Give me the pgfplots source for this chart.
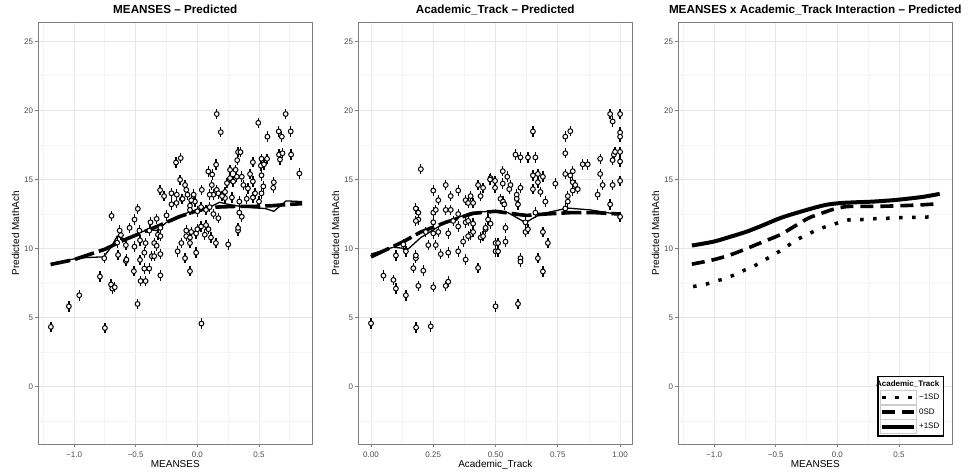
\documentclass[border=0pt]{standalone}
\usepackage{pgfplots}
\pgfplotsset{compat=1.18}
\usepackage{fontspec}
\setmainfont{Liberation Sans}
\definecolor{tickgray}{RGB}{77,77,77}
\definecolor{bordergray}{RGB}{127,127,127}
\definecolor{gridmajor}{RGB}{232,232,232}
\definecolor{gridminor}{RGB}{244,244,244}

\pgfplotstableread{
x y
-1.188 4.33
-1.042 5.82
-0.958 6.62
-0.75 4.25
-0.79 7.97
-0.70 7.4
-0.69 7.1
-0.67 7.2
-0.755 9.3
-0.643 9.54
-0.58 9.1
-0.575 9.2
-0.58 10.25
-0.65 10.43
-0.62 10.98
-0.51 10.14
-0.515 8.36
-0.485 5.99
-0.465 9.18
-0.46 7.65
-0.42 7.65
-0.43 8.55
-0.39 8.55
-0.43 9.7
-0.42 10.4
-0.37 9.45
-0.35 9.45
-0.35 10.4
-0.33 10.2
-0.30 9.6
-0.30 8.06
-0.32 11.0
-0.30 10.9
-0.16 9.8
-0.13 10.4
-0.10 9.3
-0.06 10.4
-0.06 8.36
-0.09 10.9
-0.06 10.8
-0.01 9.7
-0.01 11.1
0.033 4.57
0.06 11.0
0.11 10.8
0.15 10.4
0.25 10.3
0.33 11.3
-0.465 10.6
0.157 19.74
0.19 18.43
0.494 19.1
0.716 19.74
0.757 18.48
0.66 18.48
0.685 18.1
0.568 18.1
-0.173 16.23
-0.135 16.55
0.152 16.07
0.33 16.98
0.35 16.98
0.52 16.5
0.565 16.5
0.323 16.4
0.662 16.8
0.67 16.45
0.69 16.9
0.76 16.8
0.089 15.58
0.12 15.36
0.265 15.7
0.31 15.7
0.515 16.0
0.827 15.43
-0.14 14.98
-0.10 14.6
-0.09 14.25
-0.167 13.9
-0.126 13.58
-0.03 13.9
-0.02 13.4
0.036 14.25
0.117 14.6
0.157 14.25
0.13 13.9
0.224 14.1
0.224 13.66
0.24 14.74
0.265 15.1
0.29 14.85
0.32 15.2
0.36 15.2
0.373 14.6
0.41 14.36
0.427 15.39
0.45 14.85
0.468 14.0
0.52 14.0
0.535 14.5
0.52 15.3
0.62 14.8
0.615 14.4
0.45 16.25
0.54 16.1
-0.302 14.23
-0.27 13.8
-0.21 14.0
-0.08 13.9
-0.05 13.5
0.10 13.9
0.17 14.0
0.20 13.8
0.28 13.7
0.34 13.4
0.40 13.6
0.45 13.7
0.50 13.4
-0.696 12.37
-0.483 12.88
-0.51 12.1
-0.33 12.15
-0.21 13.2
-0.17 13.3
-0.12 13.6
-0.06 13.1
-0.06 12.8
0.0 12.7
0.03 13.0
0.07 12.8
0.10 13.0
0.13 12.5
0.17 12.2
0.34 12.6
0.36 12.3
0.33 11.5
-0.63 11.3
-0.55 11.5
-0.47 11.3
-0.39 11.3
-0.30 11.5
-0.09 11.3
-0.05 11.2
0.0 11.4
0.03 11.6
0.09 11.4
0.07 11.7
-0.25 12.4
-0.38 11.9
}\pointsA

\pgfplotstableread{
x y
0.0 4.59
0.181 4.28
0.24 4.37
0.2 15.75
0.05 8.04
0.09 7.73
0.1 7.1
0.1 9.5
0.14 6.62
0.13 10.3
0.14 9.8
0.17 8.58
0.18 9.3
0.18 9.5
0.21 8.4
0.19 7.3
0.25 7.2
0.3 7.3
0.31 7.6
0.18 12.9
0.19 12.6
0.19 12.1
0.18 12.0
0.25 14.2
0.27 13.5
0.3 14.6
0.32 13.8
0.35 14.2
0.25 12.6
0.26 12.8
0.25 11.9
0.3 12.8
0.32 12.8
0.35 12.5
0.22 11.2
0.25 11.1
0.27 11.2
0.23 10.25
0.26 10.25
0.28 9.6
0.31 11.1
0.31 9.7
0.33 12.0
0.35 11.6
0.35 9.8
0.37 10.5
0.38 9.2
0.38 13.5
0.39 13.3
0.40 13.8
0.41 13.3
0.43 14.6
0.45 14.4
0.44 13.8
0.38 11.9
0.39 12.0
0.41 11.8
0.40 11.0
0.39 10.9
0.41 11.2
0.43 8.6
0.44 10.8
0.45 10.9
0.46 11.4
0.47 12.1
0.46 11.5
0.48 15.1
0.5 9.8
0.5 10.4
0.5 5.82
0.59 6.0
0.65 18.48
0.96 19.74
1.0 19.74
0.97 19.2
1.0 18.4
1.0 18.1
0.78 18.1
0.80 18.5
0.78 16.9
0.58 16.8
0.6 16.6
0.63 16.6
0.66 16.6
0.85 16.1
0.87 16.1
0.92 16.5
0.97 16.4
0.975 16.8
0.98 17.0
1.0 17.0
1.0 16.3
1.0 14.9
0.97 14.6
0.96 13.2
1.0 12.3
0.92 15.4
0.93 14.6
0.91 13.9
0.78 15.4
0.8 15.3
0.81 15.6
0.81 14.8
0.82 14.6
0.83 14.3
0.81 14.2
0.79 13.8
0.79 13.4
0.78 12.9
0.74 14.7
0.65 15.3
0.67 15.4
0.69 15.2
0.67 14.8
0.65 14.3
0.68 14.1
0.70 13.4
0.66 12.6
0.478 15.0
0.498 14.9
0.498 14.4
0.529 15.6
0.529 14.7
0.547 15.2
0.56 14.6
0.555 14.3
0.60 14.4
0.585 13.9
0.585 13.6
0.59 13.2
0.52 13.6
0.53 13.4
0.535 13.2
0.6 9.3
0.6 9.05
0.67 9.3
0.69 8.34
0.69 11.2
0.71 10.4
0.62 11.2
0.63 11.4
0.62 11.9
0.51 10.4
0.51 9.8
0.54 10.5
0.54 11.5
0.48 11.8
}\pointsB

\pgfplotsset{
  ggpanel/.style={
    scale only axis, width=274pt, height=422pt,
    anchor=south west,
    ymin=-4.17, ymax=26.38,
    ytick={0,5,10,15,20,25},
    yticklabels={0,5,10,15,20,25},
    minor ytick={-2.5,2.5,7.5,12.5,17.5,22.5},
    grid=both,
    major grid style={draw=gridmajor, line width=1pt},
    minor grid style={draw=gridminor, line width=0.8pt},
    axis line style={draw=bordergray, line width=1pt},
    tick pos=left, tick align=outside,
    major tick length=3pt, minor tick length=0pt,
    tick style={draw=bordergray, line width=0.8pt},
    ticklabel style={font=\fontsize{8}{9}\selectfont, text=tickgray},
    yticklabel style={anchor=east, inner sep=0pt, xshift=-2pt},
    xticklabel style={anchor=north, inner sep=0pt, yshift=-4.5pt},
    title style={font=\bfseries\fontsize{11.7}{14}\selectfont, at={(axis description cs:0.5,1.0078)}, anchor=base},
    label style={font=\fontsize{10}{12}\selectfont},
    xlabel style={at={(axis description cs:0.5,-0.0538)}, anchor=base},
    ylabel style={at={(axis description cs:-0.0704,0.5)}, anchor=base},
    ylabel={Predicted MathAch},
    barsty/.style={draw=none, mark=none,
      error bars/.cd, y dir=both, y fixed=0.38,
      error bar style={line width=1.3pt, black}, error mark=none},
    pointsty/.style={only marks, mark=*, mark size=2.4pt,
      mark options={fill=white, draw=black, line width=1pt}},
  },
  axisA/.style={xmin=-1.29, xmax=0.932,
    xtick={-1,-0.5,0,0.5}, xticklabels={−1.0,−0.5,0.0,0.5},
    minor xtick={-1.25,-0.75,-0.25,0.25,0.75}},
}

\begin{document}
\begin{tikzpicture}[x=1pt,y=1pt]
\path[use as bounding box] (0,0) rectangle (968,471);

% Panel 1
\begin{axis}[ggpanel, axisA, at={(38.3pt,26.7pt)},
  title={MEANSES – Predicted}, xlabel={MEANSES}]
\addplot[barsty] table[x=x,y=y] {\pointsA};
\addplot[pointsty] table[x=x,y=y] {\pointsA};
\addplot[black, line width=3.6pt, dash pattern=on 20pt off 5pt] coordinates {
(-1.19,8.85) (-1.0,9.2) (-0.9,9.5) (-0.75,9.95) (-0.6,10.6) (-0.45,11.15) (-0.3,11.7) (-0.15,12.3) (0.0,12.75) (0.15,13.0) (0.3,13.05) (0.45,13.05) (0.6,13.1) (0.75,13.2) (0.85,13.25)};
\addplot[black, line width=1.3pt] coordinates {
(-1.19,8.9) (-1.0,9.25) (-0.9,9.35) (-0.76,9.4) (-0.7,10.1) (-0.65,10.9) (-0.58,10.65) (-0.5,11.0) (-0.4,11.4) (-0.33,11.3) (-0.25,11.9) (-0.15,12.2) (-0.08,12.6) (0.0,12.8) (0.1,13.0) (0.18,13.35) (0.25,13.2) (0.35,13.05) (0.45,12.95) (0.55,12.9) (0.62,12.7) (0.72,13.45) (0.85,13.4)};
\end{axis}

% Panel 2
\begin{axis}[ggpanel, at={(358.3pt,26.7pt)},
  xmin=-0.051, xmax=1.049,
  xtick={0,0.25,0.5,0.75,1}, xticklabels={0.00,0.25,0.50,0.75,1.00},
  minor xtick={0.125,0.375,0.625,0.875},
  title={Academic\_Track – Predicted}, xlabel={Academic\_Track}]
\addplot[barsty] table[x=x,y=y] {\pointsB};
\addplot[pointsty] table[x=x,y=y] {\pointsB};
\addplot[black, line width=3.6pt, dash pattern=on 20pt off 5pt] coordinates {
(0,9.4) (0.13,10.5) (0.2,11.2) (0.3,11.9) (0.41,12.55) (0.5,12.7) (0.6,12.45) (0.625,12.4) (0.7,12.5) (0.8,12.6) (0.9,12.6) (1.0,12.5)};
\addplot[black, line width=1.3pt] coordinates {
(0,9.6) (0.09,10.1) (0.15,9.98) (0.2,10.8) (0.3,11.9) (0.4,12.6) (0.48,12.7) (0.55,12.6) (0.62,11.88) (0.68,12.5) (0.79,12.93) (0.88,12.8) (1.0,12.45)};
\end{axis}

% Panel 3
\begin{axis}[ggpanel, axisA, at={(678.3pt,26.7pt)},
  title={MEANSES x Academic\_Track Interaction – Predicted}, xlabel={MEANSES},
  legend style={at={(axis description cs:0.971,0.018)}, anchor=south east,
    draw=black, line width=1.3pt, fill=white,
    font=\fontsize{8}{9}\selectfont, text=black,
    inner xsep=2pt, inner ysep=2pt, row sep=0pt,
    nodes={inner sep=2.4pt}},
  legend cell align=left,
  legend image code/.code={\draw[draw=black!20, fill=white, line width=0.6pt, solid] (0pt,-7pt) rectangle (36pt,7pt); \draw[#1, line cap=butt] (2pt,0pt) -- (34pt,0pt);},
  ]
\addlegendimage{empty legend}
\addlegendentry{\makebox[0pt][l]{\hspace*{-43pt}\bfseries Academic\_Track}}
\addplot[black, line width=3.5pt, line cap=butt, dash pattern=on 3.5pt off 9.5pt, smooth] coordinates {
(-1.17,7.25) (-1.06,7.44) (-0.96,7.7) (-0.85,8.04) (-0.75,8.45) (-0.64,8.9) (-0.54,9.44) (-0.44,9.95) (-0.35,10.53) (-0.24,11.04) (-0.127,11.48) (-0.024,11.78) (0.09,12.07) (0.2,12.1) (0.32,12.17) (0.43,12.2) (0.55,12.25) (0.66,12.27) (0.8,12.3)};
\addlegendentry{−1SD}
\addplot[black, line width=3.6pt, line cap=butt, dash pattern=on 13pt off 7pt, smooth] coordinates {
(-1.18,8.87) (-1.0,9.2) (-0.85,9.6) (-0.708,10.1) (-0.6,10.5) (-0.464,11.0) (-0.35,11.6) (-0.235,12.2) (-0.13,12.55) (-0.03,12.85) (0.076,13.04) (0.2,13.05) (0.35,13.06) (0.5,13.1) (0.65,13.15) (0.82,13.24)};
\addlegendentry{0SD}
\addplot[black, line width=4pt, smooth] coordinates {
(-1.18,10.22) (-1.005,10.5) (-0.87,10.85) (-0.734,11.23) (-0.6,11.7) (-0.45,12.25) (-0.248,12.8) (-0.1,13.15) (0.02,13.29) (0.15,13.35) (0.29,13.4) (0.45,13.5) (0.56,13.6) (0.7,13.75) (0.83,13.96)};
\addlegendentry{+1SD}
\end{axis}
\end{tikzpicture}
\end{document}
